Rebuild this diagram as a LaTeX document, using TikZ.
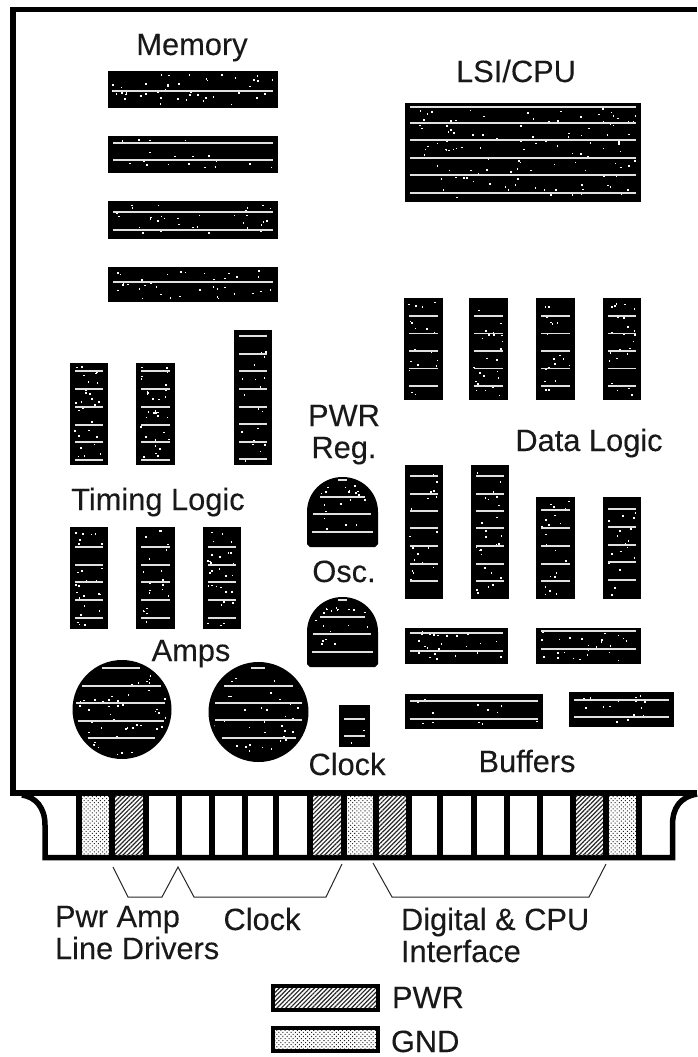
\documentclass[tikz,border=0pt]{standalone}
\usepackage{fontspec}
\setmainfont{Liberation Sans}
\usetikzlibrary{patterns.meta}
\tikzset{
  x=1pt,y=-1pt,
  lbl/.style={inner sep=0pt,outer sep=0pt,font=\fontsize{30.8}{32}\selectfont\addfontfeature{FakeBold=0.15},text=black!90},
  midlbl/.style={lbl,anchor=base},
  leftlbl/.style={lbl,anchor=base west,align=left},
  chipfill/.style={fill=black},
  cut/.style={draw=black!12,line width=1.5pt},
  board/.style={draw=black,line width=5.5pt,line join=miter},
  divider/.style={draw=black,line width=6pt},
  pwrpat/.style={pattern={Lines[angle=45,distance=3.1pt,line width=1.2pt]},pattern color=black!85},
  gndpat/.style={pattern={Dots[radius=.72pt,distance=2.9pt,angle=45]},pattern color=black!85},
  bracket/.style={draw=black!85,line width=1pt},
  legendbox/.style={draw=black,line width=4pt},
}
% random white flecks inside a box
\newcommand\fleck[5]{%
  \foreach \fk in {1,...,#5}{%
    \pgfmathsetmacro\fx{(#1)+rnd*((#3)-(#1))}%
    \pgfmathsetmacro\fy{(#2)+rnd*((#4)-(#2))}%
    \fill[white] (\fx,\fy) rectangle ++(1.6,1.6);
  }}
\newcommand\cutlines[3]{%
  \foreach \ly in {#3}{\path[cut] (#1,\ly) -- (#2,\ly);}}
% x0 y0 x1 y1 lines flecks
\newcommand\chipbox[6]{%
  \fill[chipfill] (#1,#2) rectangle (#3,#4);
  \fleck{#1+4}{#2+3}{#3-6}{#4-4}{#6}
  \cutlines{#1+5}{#3-5}{#5}}
% dome: top y
\newcommand\dome[1]{%
  \begin{scope}[yshift=-#1pt]
  \path[chipfill] (307,35) .. controls (307,15) and (323,0) .. (342.5,0)
     .. controls (362,0) and (378,15) .. (378,35) -- (378,67) -- (375,70) -- (310,70) -- (307,67) -- cycle;
  \fleck{320}{8}{365}{17}{10}
  \fleck{313}{22}{370}{35}{5}
  \fleck{313}{40}{370}{52}{4}
  \path[cut] (338,3) -- (347,3);
  \path[cut] (320,20) -- (365,20);
  \path[cut] (313,37) -- (371,37);
  \path[cut] (312,55) -- (373,55);
  \end{scope}}
\begin{document}
\begin{tikzpicture}
\pgfmathsetseed{4242}
\path[use as bounding box,fill=white] (0,0) rectangle (697,1057);

% board outline
\path[board] (697,9.5) -- (13,9.5) -- (13,793) -- (697,793);
\path[board] (22,795) .. controls (36,797) and (45,808) .. (45,825) -- (45,857.5) -- (672.5,857.5) -- (672.5,825) .. controls (672.5,808) and (680,797) .. (697,794);

% edge connector fingers
\path[gndpat] (82,795) rectangle (109,855);
\path[pwrpat] (115,795) rectangle (143,855);
\path[pwrpat] (312,795) rectangle (341,855);
\path[gndpat] (346,795) rectangle (373,855);
\path[pwrpat] (378,795) rectangle (406,855);
\path[pwrpat] (575,795) rectangle (603,855);
\path[gndpat] (608,795) rectangle (636,855);
\foreach \px in {79,112,145.5,179,212,245,276,309.5,343.5,375.5,409,440,474,507,540,572.5,605.5,639}{
  \path[divider] (\px,793) -- (\px,857);
}

% memory
\chipbox{108}{71}{278}{108}{91}{45}
\chipbox{108}{136}{278}{173}{143,160}{18}
\chipbox{108}{201}{278}{239}{212,230}{35}
\chipbox{108}{267}{278}{302}{282}{35}

% LSI/CPU
\chipbox{405}{103}{641}{202}{107,123,140,158,175,193}{120}

% data logic
\chipbox{404}{298}{443}{400}{316,333.5,351,368.5,386}{18}
\chipbox{469}{298}{508}{400}{316,333.5,351,368.5,386}{25}
\chipbox{536}{298}{575}{400}{316,333.5,351,368.5,386}{20}
\chipbox{603}{298}{641}{400}{316,333.5,351,368.5,386}{25}
\chipbox{405}{465}{443}{599}{476,494,511,528,546,564,581}{20}
\chipbox{471}{465}{509}{599}{476,494,511,528,546,564,581}{28}
\chipbox{536}{497}{575}{599}{510,528,546,564,581}{20}
\chipbox{603}{497}{641}{599}{509,527,545,562,580}{20}

% buffers
\chipbox{405}{628}{508}{664}{633,651}{25}
\chipbox{536}{628}{641}{664}{631,649}{25}
\chipbox{405}{694}{543}{729}{701,719}{14}
\chipbox{569}{692}{674}{727}{700,717}{16}

% timing logic
\chipbox{70}{363}{108}{465}{371,389,407,425,442,460}{28}
\chipbox{136}{363}{175}{465}{371,389,407,425,442,460}{34}
\chipbox{234}{330}{272}{465}{336,354,371,389,407,424,442,459}{22}
\chipbox{70}{527}{108}{629}{547,565,582,600,618}{28}
\chipbox{136}{527}{175}{629}{547,565,582,600,618}{26}
\chipbox{203}{527}{241}{629}{547,565,582,600,618}{30}

% regulators
\dome{477}
\dome{597}

% amps
\fill[chipfill] (122,709.5) circle[radius=49.5];
\begin{scope}
  \clip (122,709.5) circle[radius=46];
  \fleck{76}{672}{168}{755}{55}
\end{scope}
\path[cut] (102,668) -- (140,668);
\path[cut] (82,686) -- (161,686);
\path[cut] (76,703) -- (165,703);
\path[cut] (78,721) -- (164,721);
\path[cut] (88,738) -- (155,738);
\fill[chipfill] (258.5,712) circle[radius=50];
\begin{scope}
  \clip (258.5,712) circle[radius=46];
  \fleck{212}{672}{305}{757}{38}
\end{scope}
\path[cut] (251,668) -- (265,668);
\path[cut] (224,686) -- (293,686);
\path[cut] (215,703) -- (302,703);
\path[cut] (215,720) -- (302,720);
\path[cut] (222,738) -- (296,738);

% clock chip
\chipbox{339}{705}{370}{747}{719,736}{2}

% labels
\node[midlbl] (memory) at (192,55) {Memory};
\node[midlbl] (lsicpu) at (516,82) {LSI/CPU};
\node[midlbl] (datalogic) at (589,451) {Data Logic};
\node[midlbl] (timinglogic) at (158,510) {Timing Logic};
\node[lbl,anchor=base,align=center] (pwrreg) at (344,458) {PWR\\Reg.};
\node[midlbl] (osc) at (344,582) {Osc.};
\node[midlbl] (amps) at (191,661) {Amps};
\node[midlbl] (clockchip) at (347,775) {Clock};
\node[midlbl] (buffers) at (527,772) {Buffers};
\node[leftlbl] (pwramp) at (55,959) {Pwr Amp\\Line Drivers};
\node[midlbl] (clockpins) at (262,930) {Clock};
\node[leftlbl] (digital) at (401,962) {Digital \& CPU\\Interface};

% brackets
\coordinate (a0) at (113,867);
\coordinate (a1) at (128,897);
\coordinate (a2) at (162,897);
\coordinate (a3) at (178,867);
\coordinate (a4) at (194,897);
\coordinate (a5) at (326,897);
\coordinate (a6) at (342,864);
\path[bracket] (a0) -- (a1) -- (a2) -- (a3) -- (a4) -- (a5) -- (a6);
\coordinate (d0) at (373,863);
\coordinate (d1) at (392,897);
\coordinate (d2) at (589,897);
\coordinate (d3) at (606,864);
\path[bracket] (d0) -- (d1) -- (d2) -- (d3);

% legend
\path[pwrpat] (273,986) rectangle (378,1010);
\path[legendbox] (273,986) rectangle (378,1010);
\path[gndpat] (273,1028) rectangle (378,1051);
\path[legendbox] (273,1028) rectangle (378,1051);
\node[lbl,anchor=base west] (pwrkey) at (392,1008) {PWR};
\node[lbl,anchor=base west] (gndkey) at (391,1052) {GND};
\end{tikzpicture}
\end{document}
